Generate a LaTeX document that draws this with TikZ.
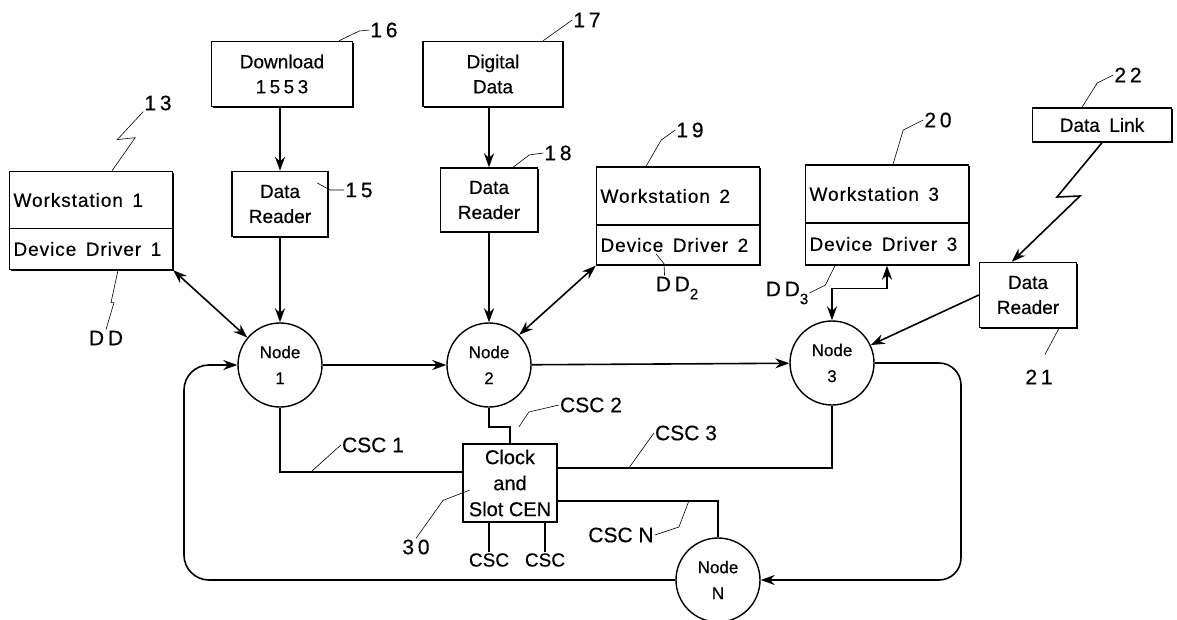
\documentclass[tikz,border=0pt]{standalone}
\usepackage{fontspec}
\setmainfont[FakeBold=0.4]{Liberation Sans}
\newfontfamily\numfont[LetterSpace=18,FakeBold=0.4]{Liberation Sans}
\newfontfamily\wsfont[LetterSpace=5,FakeBold=0.4]{Liberation Sans}
\usetikzlibrary{arrows.meta,positioning,shadows}

\tikzset{
  box/.style={draw, fill=white, line width=1.4pt, align=center, inner sep=0pt,
    font=\fontsize{19}{25}\selectfont,
    drop shadow={shadow xshift=1.3pt, shadow yshift=-1.3pt, opacity=1, fill=black}},
  wsbox/.style={box, text width=155pt, inner xsep=4pt, align=left,
    font=\wsfont\fontsize{19}{25}\selectfont},
  ring/.style={circle, draw, fill=white, line width=1.4pt, minimum size=84pt,
    inner sep=0pt, align=center, font=\fontsize{17}{26}\selectfont},
  num/.style={font=\numfont\fontsize{21}{24}\selectfont, inner sep=1pt},
  tag/.style={font=\fontsize{21}{24}\selectfont, inner sep=1pt},
  arr/.style={line width=1.6pt, -{Stealth[length=14pt,width=10pt]}},
  arrr/.style={line width=1.6pt, {Stealth[length=14pt,width=10pt]}-{Stealth[length=14pt,width=10pt]}},
  wire/.style={line width=1.6pt},
  lead/.style={line width=0.6pt}
}

\begin{document}
\begin{tikzpicture}[x=1pt, y=-1pt]
  \useasboundingbox (0,0) rectangle (1177,619);

  % Sources and readers
  \node[box, minimum width=141pt, minimum height=65pt] (dl) at (282,74) {Download\\{\numfont 1553}};
  \node[box, minimum width=140pt, minimum height=65pt] (dig) at (493,74) {Digital\\Data};
  \node[box, minimum width=96pt, minimum height=65pt] (rd15) at (280,204) {Data\\Reader};
  \node[box, minimum width=97pt, minimum height=64pt] (rd18) at (489,200) {Data\\Reader};
  \node[box, minimum width=139pt, minimum height=34pt] (link) at (1102,125) {Data\enspace Link};
  \node[box, minimum width=97pt, minimum height=65pt] (rd21) at (1028,295) {Data\\Reader};

  % Workstations
  \node[wsbox, minimum height=57pt] (ws1top) at (91,200) {Workstation\ \,1};
  \node[wsbox, minimum height=41pt, below=-1.4pt of ws1top] (ws1bot) {Device\ \,Driver\ \,1};
  \node[wsbox, minimum height=58pt] (ws2top) at (678,196) {Workstation\ \,2};
  \node[wsbox, minimum height=40pt, below=-1.4pt of ws2top] (ws2bot) {Device\ \,Driver\ \,2};
  \node[wsbox, minimum height=58pt] (ws3top) at (887,194) {Workstation\ \,3};
  \node[wsbox, minimum height=42pt, below=-1.4pt of ws3top] (ws3bot) {Device\ \,Driver\ \,3};

  % Ring nodes and clock
  \node[ring] (n1) at (280,365) {Node\\1};
  \node[ring] (n2) at (489,365) {Node\\2};
  \node[ring] (n3) at (832,363) {Node\\3};
  \node[ring] (nN) at (718,580) {Node\\N};
  \node[box, minimum width=94pt, minimum height=78pt, font=\fontsize{20}{26}\selectfont] (clk) at (510,483) {Clock\\and\\Slot CEN};

  % Reference numerals and tags
  \node[num] (l13) at (158,103) {13};
  \node[num] (ldd) at (106,338) {DD};
  \node[num] (l15) at (359,190) {15};
  \node[num] (l16) at (384,30) {16};
  \node[num] (l17) at (587,20) {17};
  \node[num] (l18) at (558,153) {18};
  \node[num] (l19) at (690,130) {19};
  \node[num] (l20) at (938,120) {20};
  \node[num] (l22) at (1128,75) {22};
  \node[num] (l21) at (1039,377) {21};
  \node[num] (lDD2) at (677,288) {DD\raisebox{-8pt}{\fontsize{15}{15}\selectfont 2}};
  \node[num] (lDD3) at (787,293) {DD\raisebox{-8pt}{\fontsize{15}{15}\selectfont 3}};
  \node[num] (l30) at (416,547) {30};
  \node[tag] (lcsc1) at (373,445) {CSC 1};
  \node[tag] (lcsc2) at (591,405) {CSC 2};
  \node[tag] (lcsc3) at (686,433) {CSC 3};
  \node[tag] (lcscN) at (621,535) {CSC N};
  \node[tag, font=\fontsize{19}{20}\selectfont] (cscA) at (489,560) {CSC};
  \node[tag, font=\fontsize{19}{20}\selectfont] (cscB) at (545,560) {CSC};

  % Data paths
  \draw[arr] (rd15.north |- dl.south) -- (rd15.north);
  \draw[arr] (rd15.south) -- (n1.north);
  \draw[arr] (rd18.north |- dig.south) -- (rd18.north);
  \draw[arr] (rd18.south) -- (n2.north);
  \draw[arr] (link.south) -- (1057,197) -- (1080,196) -- (rd21.116);
  \draw[arr] (rd21.west) -- (n3);
  \draw[arrr] (ws1bot.south east) -- (n1.140);
  \draw[arrr] (ws2bot.south west) -- (n2.45);
  \draw[arrr] (n3.north) -- ++(0,-32) -| (ws3bot.south);

  % Ring
  \coordinate (loopR) at (961,580);
  \coordinate (loopL) at (184,580);
  \draw[arr] (n1) -- (n2);
  \draw[arr] (n2) -- (n3);
  \draw[arr, rounded corners=22pt] (n3.east) -| (loopR) -- (nN.east);
  \draw[arr, rounded corners=25pt] (nN.west) -| (loopL |- n1.west) -- (n1.west);

  % Clock lines
  \coordinate (j2) at (510,427);
  \draw[wire] (n1.south) |- ([yshift=11pt]clk.west);
  \draw[wire] (n2.south) |- (j2) -- (clk.north);
  \draw[wire] ([yshift=15pt]clk.east) -| (n3.south);
  \draw[wire] ([yshift=-18pt]clk.east) -| (nN.north);
  \draw[wire] (cscA.north |- clk.south) -- (cscA.north);
  \draw[wire] (cscB.north |- clk.south) -- (cscB.north);

  % Leaders
  \draw[lead] (l13.south west) -- ++(-26,28) -- ++(18,-2) -- ([xshift=21pt]ws1top.north);
  \draw[lead] (ldd.north) -- ++(8,-27) -- ++(-3,0) -- ([xshift=27pt]ws1bot.south);
  \draw[lead] (l15.west) -- ++(-14,0) -- ++(-13,-7);
  \draw[lead] (l16.west) -- ++(-10,1) -- ([xshift=57pt]dl.north);
  \draw[lead] (l17.west) -- ([xshift=50pt]dig.north);
  \draw[lead] (l18.west) -- ++(-14,2) -- ([xshift=24pt]rd18.north);
  \draw[lead] (l19.west) -- ++(-14,10) -- ([xshift=-32pt]ws2top.north);
  \draw[lead] (l20.west) -- ++(-20,10) -- ([xshift=6pt]ws3top.north);
  \draw[lead] (l22.west) -- ++(-16,8) -- ([xshift=-20pt]link.north);
  \draw[lead] ([xshift=6pt,yshift=14pt]l21.north) -- ([xshift=31pt]rd21.south);
  \draw[lead] ([xshift=-22pt,yshift=12pt]ws2bot.south) -- ++(8,10) -- ([xshift=10pt]lDD2.north west);
  \draw[lead] (lDD3.east) -- ++(16,-8) -- ([xshift=-52pt]ws3bot.south);
  \draw[lead] (lcsc1.west) -- ++(-30,27);
  \draw[lead] (lcsc2.west) -- ++(-30,7) -- ++(-10,15);
  \draw[lead] (lcsc3.west) -- ++(-25,35);
  \draw[lead] (lcscN.east) -- ++(24,-8) -- ++(10,-26);
  \draw[lead] (l30.north) -- ++(27,-38) -- ([xshift=-40pt,yshift=-7pt]clk.center);
\end{tikzpicture}
\end{document}
